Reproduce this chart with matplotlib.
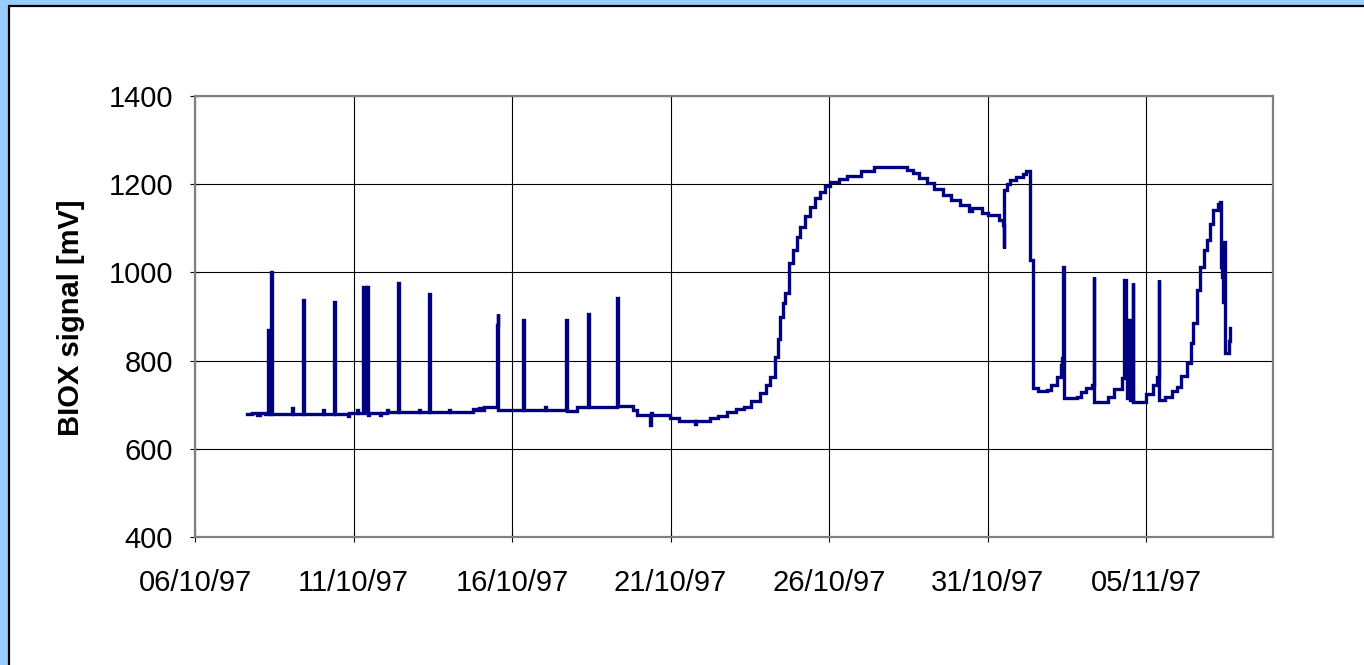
"""BIOX sensor signal, October - November 1997."""
import matplotlib

matplotlib.use("Agg")
import matplotlib.dates as mdates
import matplotlib.pyplot as plt
import pandas as pd
from matplotlib.patches import Rectangle

# Record start; samples are given as elapsed days from this date.
record_start = "1997-10-06"

elapsed_days = [
    1.64, 1.80, 1.95, 2.05, 2.20, 2.29, 2.30, 2.34, 2.36, 2.39, 2.42, 2.44,
    3.00, 3.05, 3.10, 3.38, 3.40, 3.43, 4.00, 4.03, 4.07, 4.36, 4.38, 4.41,
    4.80, 4.83, 4.87, 5.08, 5.10, 5.13, 5.28, 5.30, 5.35, 5.38, 5.41, 5.45,
    5.47, 5.50, 5.82, 5.85, 5.88, 6.03, 6.05, 6.08, 6.38, 6.40, 6.43, 7.04,
    7.07, 7.10, 7.36, 7.38, 7.41, 7.97, 8.00, 8.03, 8.75, 8.78, 8.85, 8.95,
    9.05, 9.10, 9.50, 9.51, 9.53, 9.55, 9.57, 10.33, 10.35, 10.38, 11.02,
    11.04, 11.07, 11.68, 11.70, 11.73, 12.02, 12.05, 12.38, 12.40, 12.43,
    13.30, 13.32, 13.35, 13.78, 13.80, 13.93, 13.95, 14.33, 14.35, 14.37,
    14.40, 14.96, 14.98, 15.23, 15.25, 15.73, 15.76, 15.79, 16.00, 16.25,
    16.50, 16.77, 17.05, 17.30, 17.55, 17.82, 18.00, 18.14, 18.30, 18.38,
    18.45, 18.53, 18.60, 18.72, 18.87, 18.98, 19.09, 19.25, 19.40, 19.55,
    19.72, 19.88, 20.03, 20.30, 20.56, 21.00, 21.40, 21.80, 22.24, 22.45,
    22.66, 22.85, 23.08, 23.30, 23.60, 23.85, 24.13, 24.40, 24.50, 24.66,
    24.82, 25.00, 25.18, 25.35, 25.48, 25.52, 25.53, 25.60, 25.71, 25.90,
    26.13, 26.20, 26.32, 26.33, 26.42, 26.43, 26.60, 26.87, 27.00, 27.18,
    27.30, 27.36, 27.39, 27.40, 27.60, 27.81, 27.95, 28.10, 28.29, 28.35,
    28.37, 28.65, 28.80, 29.00, 29.23, 29.31, 29.36, 29.40, 29.45, 29.50,
    29.57, 29.59, 29.81, 30.00, 30.20, 30.33, 30.39, 30.42, 30.60, 30.80,
    30.97, 31.10, 31.28, 31.40, 31.49, 31.60, 31.70, 31.82, 31.91, 32.00,
    32.12, 32.25, 32.33, 32.35, 32.40, 32.42, 32.44, 32.48, 32.55, 32.60,
    32.63, 32.65,
]

signal_mv = [
    680, 682, 677, 682, 678, 682, 870, 870, 680, 1000, 1000, 678,
    678, 693, 679, 679, 937, 679, 680, 688, 680, 680, 932, 680,
    680, 675, 681, 681, 688, 682, 682, 968, 968, 682, 968, 968,
    676, 682, 682, 676, 682, 682, 689, 683, 683, 975, 683, 683,
    689, 683, 683, 950, 683, 683, 689, 684, 684, 690, 687, 692,
    689, 694, 694, 880, 880, 905, 689, 689, 893, 689, 689,
    695, 689, 689, 893, 686, 686, 695, 695, 905, 695,
    695, 943, 697, 697, 687, 687, 677, 677, 655, 682,
    677, 677, 670, 670, 664, 664, 656, 662, 664, 669,
    675, 684, 690, 695, 708, 726, 745, 763, 809, 850,
    900, 930, 953, 1021, 1051, 1080, 1104, 1128, 1149, 1168,
    1183, 1195, 1204, 1212, 1219, 1230, 1238, 1240, 1240, 1233,
    1225, 1213, 1202, 1190, 1175, 1165, 1152, 1140, 1145, 1145,
    1134, 1131, 1130, 1118, 1107, 1055, 1187, 1200, 1209, 1216,
    1224, 1230, 1230, 1028, 1013, 737, 732, 733, 745, 763,
    790, 805, 1013, 715, 715, 718, 728, 738, 745, 990,
    707, 707, 718, 735, 760, 983, 892, 715, 892, 710,
    977, 707, 707, 725, 745, 763, 983, 711, 718, 730,
    741, 765, 794, 840, 885, 960, 1013, 1050, 1073, 1110,
    1141, 1155, 1160, 1013, 990, 934, 1070, 817, 817, 845,
    847, 873,
]

y_ticks = [400, 600, 800, 1000, 1200, 1400]
x_range = ["1997-10-06", "1997-11-09"]

start = pd.Timestamp(record_start)
times = start + pd.to_timedelta(elapsed_days, unit="D")

plt.rcParams["font.family"] = ["Liberation Sans", "DejaVu Sans"]

fig = plt.figure(figsize=(13.64, 6.65), dpi=100, facecolor="#99ccff")
# White chart panel with a black edge on the top and left
fig.patches.append(
    Rectangle((9 / 1364, -0.1), 1.2, 0.1 + 1 - 6 / 665, transform=fig.transFigure,
              facecolor="white", edgecolor="black", linewidth=1.6, zorder=-5)
)

ax = fig.add_axes([195 / 1364, 1 - 537 / 665, 1078 / 1364, 441 / 665])
ax.set_zorder(1)
ax.set_facecolor("white")
# the logger holds each reading until the next one, hence the staircase
ax.plot(times, signal_mv, color="#000080", linewidth=2.4, drawstyle="steps-post",
        solid_joinstyle="miter")

ax.set_ylim(y_ticks[0], y_ticks[-1])
ax.set_yticks(y_ticks)
ax.set_xlim(pd.Timestamp(x_range[0]), pd.Timestamp(x_range[1]))
ax.set_xticks(pd.date_range(x_range[0], periods=7, freq="5D"))
ax.xaxis.set_major_formatter(mdates.DateFormatter("%d/%m/%y"))

ax.grid(True, color="black", linewidth=0.8)
ax.set_axisbelow(True)
for side in ax.spines.values():
    side.set_color("#808080")
    side.set_linewidth(1.6)

ax.tick_params(axis="both", direction="inout", length=6.5, width=0.8, color="black",
               labelsize=21)
ax.tick_params(axis="y", pad=12.5)
ax.tick_params(axis="x", pad=20)
ax.set_ylabel("BIOX signal [mV]", fontsize=21, fontweight="bold")
ax.yaxis.set_label_coords(-0.102, 0.497)

fig.savefig("out.png", dpi=100, facecolor=fig.get_facecolor())
plt.close(fig)
